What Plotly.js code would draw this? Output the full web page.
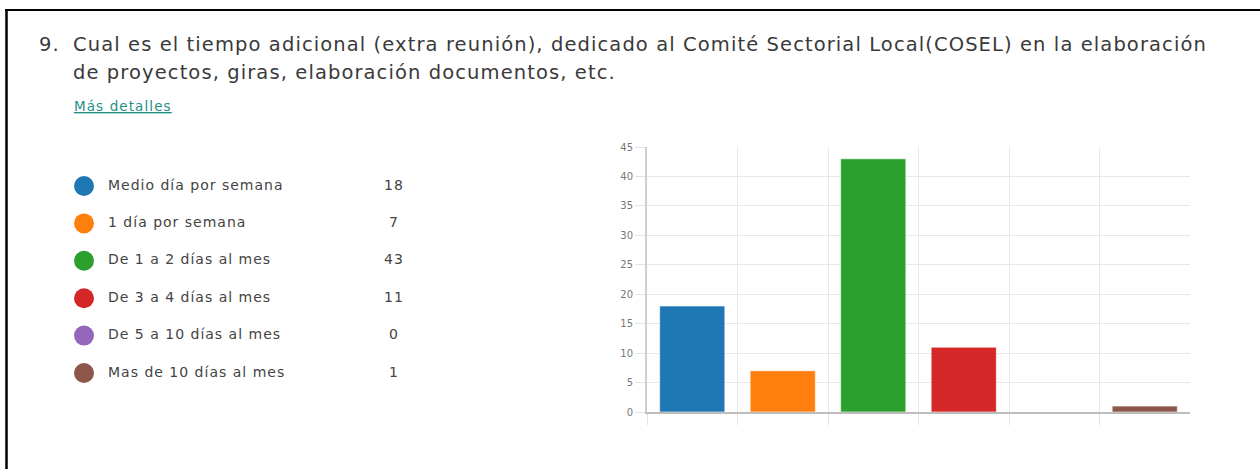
<!DOCTYPE html>
<html>
<head>
<meta charset="utf-8">
<script src="https://cdn.plot.ly/plotly-3.0.1.min.js"></script>
<style>
  html, body { margin: 0; padding: 0; background: #fff; }
  #chart { width: 1260px; height: 469px; }
  #chart .annotation-text { letter-spacing: 1.1px; }
  #chart .textpoint text { letter-spacing: 1px; }
</style>
</head>
<body>
<div id="chart"></div>
<script>
// ---- data ----
const categories = [
  "Medio día por semana",
  "1 día por semana",
  "De 1 a 2 días al mes",
  "De 3 a 4 días al mes",
  "De 5 a 10 días al mes",
  "Mas de 10 días al mes"
];
const counts = [18, 7, 43, 11, 0, 1];
const colors = ["#1f77b4", "#ff7f0e", "#2ca02c", "#d62728", "#9467bd", "#8c564b"];
const yTicks = [0, 5, 10, 15, 20, 25, 30, 35, 40, 45];
const questionNumber = "9.";
const questionLine1 = "Cual es el tiempo adicional (extra reunión), dedicado al Comité Sectorial Local(COSEL) en la elaboración";
const questionLine2 = "de proyectos, giras, elaboración documentos, etc.";
const linkText = "Más detalles";

// ---- geometry helpers (pixel layout) ----
const W = 1260, H = 469;
const px = v => v / W;
const py = v => 1 - v / H;

// legend rows: first row centre y=186, spacing 37.4
const rowTop = 186, rowStep = 37.4;
const y2range = [(H - rowTop) / rowStep, -rowTop / rowStep];

const font = "'DejaVu Sans', 'Open Sans', sans-serif";

// category boundaries for the vertical grid (left edge of each category)
const boundaries = categories.map((c, i) => i - 0.5);

const traces = [
  {
    type: "bar",
    x: categories,
    y: counts,
    marker: { color: colors, line: { color: "rgba(255,255,255,0.6)", width: 1 } },
    xaxis: "x", yaxis: "y",
    hoverinfo: "x+y",
    showlegend: false
  },
  {
    type: "scatter",
    mode: "markers",
    x: categories.map(() => 0),
    y: categories.map((c, i) => i),
    marker: { color: colors, size: 20, symbol: "circle" },
    xaxis: "x2", yaxis: "y2",
    hoverinfo: "skip",
    showlegend: false
  },
  {
    type: "scatter",
    mode: "text",
    x: categories.map(() => 24),
    y: categories.map((c, i) => i),
    text: categories,
    textposition: "middle right",
    textfont: { family: font, size: 14, color: "#444" },
    xaxis: "x2", yaxis: "y2",
    hoverinfo: "skip",
    showlegend: false
  },
  {
    type: "scatter",
    mode: "text",
    x: categories.map(() => 310),
    y: categories.map((c, i) => i),
    text: counts.map(String),
    textposition: "middle center",
    textfont: { family: font, size: 14, color: "#444" },
    xaxis: "x2", yaxis: "y2",
    hoverinfo: "skip",
    showlegend: false
  }
];

const layout = {
  width: W, height: H,
  margin: { l: 0, r: 0, t: 0, b: 0 },
  paper_bgcolor: "#fff",
  plot_bgcolor: "#fff",
  font: { family: font, color: "#444" },
  bargap: 0.28,
  xaxis: {
    domain: [px(647), px(1190)],
    type: "category",
    range: [-0.5, categories.length - 0.5],
    tickmode: "array",
    tickvals: boundaries,
    ticktext: boundaries.map(() => ""),
    ticks: "outside",
    ticklen: 11,
    tickcolor: "#e3e3e3",
    showticklabels: false,
    showgrid: true,
    gridcolor: "#e8e8e8",
    gridwidth: 1,
    showline: true,
    linecolor: "#bdbdbd",
    linewidth: 2,
    zeroline: false,
    fixedrange: true
  },
  yaxis: {
    domain: [1 - 412 / H, 1 - 147 / H],
    range: [0, 45],
    tickmode: "array",
    tickvals: yTicks,
    ticks: "outside",
    ticklen: 10,
    tickcolor: "#e3e3e3",
    tickfont: { family: "'DejaVu Sans', sans-serif", size: 10, color: "#777" },
    showgrid: true,
    gridcolor: "#e8e8e8",
    gridwidth: 1,
    showline: true,
    linecolor: "#cfcfcf",
    linewidth: 2,
    zeroline: false,
    fixedrange: true
  },
  xaxis2: {
    domain: [0, 0.5],
    range: [-84, 546],
    visible: false,
    fixedrange: true
  },
  yaxis2: {
    domain: [0, 1],
    range: y2range,
    visible: false,
    anchor: "x2",
    fixedrange: true
  },
  shapes: [
    { type: "line", xref: "paper", yref: "paper", x0: px(5), x1: 1, y0: py(10), y1: py(10),
      line: { color: "#000", width: 2 } },
    { type: "line", xref: "paper", yref: "paper", x0: px(6.5), x1: px(6.5), y0: py(10), y1: 0,
      line: { color: "#000", width: 2.5 } }
  ],
  annotations: [
    { xref: "paper", yref: "paper", x: px(37), y: py(31), xanchor: "left", yanchor: "top",
      text: questionNumber, showarrow: false, align: "left",
      font: { family: font, size: 19.5, color: "#3a3a3a" } },
    { xref: "paper", yref: "paper", x: px(71), y: py(31), xanchor: "left", yanchor: "top",
      text: questionLine1, showarrow: false, align: "left",
      font: { family: font, size: 19.5, color: "#3a3a3a" } },
    { xref: "paper", yref: "paper", x: px(71), y: py(59), xanchor: "left", yanchor: "top",
      text: questionLine2, showarrow: false, align: "left",
      font: { family: font, size: 19.5, color: "#3a3a3a" } },
    { xref: "paper", yref: "paper", x: px(72), y: py(96), xanchor: "left", yanchor: "top",
      text: "<u>" + linkText + "</u>", showarrow: false, align: "left",
      font: { family: font, size: 13.5, color: "#1f8f84" } }
  ]
};

Plotly.newPlot("chart", traces, layout, { displayModeBar: false, staticPlot: true });
</script>
</body>
</html>
